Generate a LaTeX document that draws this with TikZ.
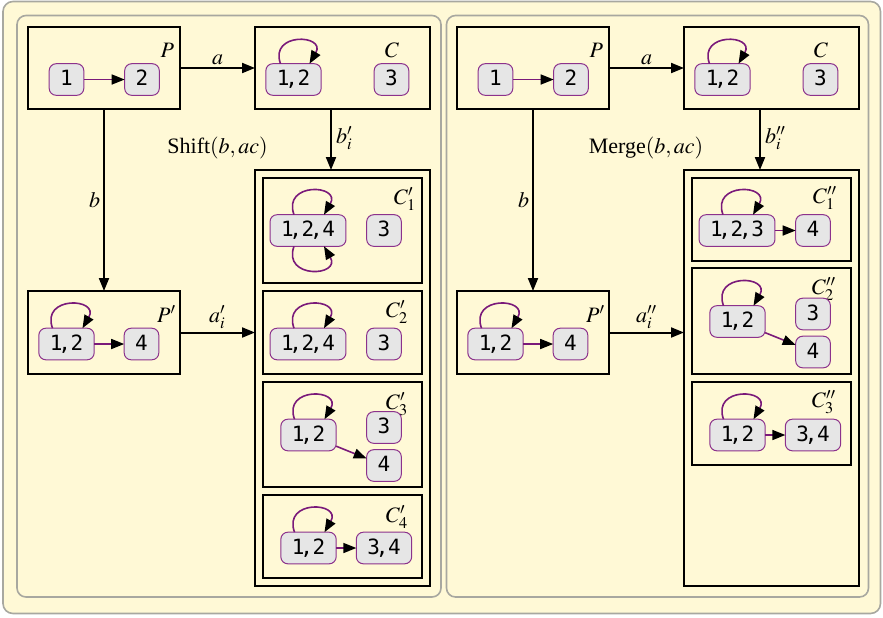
\documentclass[tikz,border=0pt]{standalone}
\usepackage{mathptmx}
\usepackage{fontspec}
\setmainfont{Liberation Serif}
\newfontfamily\statefont{DejaVu Sans Mono}
\usetikzlibrary{arrows.meta}

\definecolor{paper}{RGB}{255,249,214}
\definecolor{rimgray}{RGB}{168,168,160}
\definecolor{statefill}{RGB}{230,230,230}
\definecolor{stateline}{RGB}{140,50,140}
\definecolor{edgeline}{RGB}{122,26,122}

% comma between state numbers: tucked in, with a little room after it
\newcommand\dsep{\kern-0.2em,\kern-0.02em}
% rectangle node from its two corners (pixel-like units)
\newcommand\placebox[6]{\node[#1, minimum width={(#5-#3)*0.5pt}, minimum height={(#6-#4)*0.5pt}] (#2) at ({(#3+#5)/2},{(#4+#6)/2}) {};}

\tikzset{
  sheet/.style={draw=rimgray, fill=paper, line width=0.8pt, rounded corners=5pt, inner sep=0pt, outer sep=0pt},
  panel/.style={draw=rimgray, fill=paper, line width=0.8pt, rounded corners=4.5pt, inner sep=0pt, outer sep=0pt},
  frame/.style={draw=black, line width=0.6pt, inner sep=0pt, outer sep=0pt},
  state/.style={draw=stateline, fill=statefill, line width=0.5pt, rounded corners=3.5pt,
    inner xsep=5.5pt, inner ysep=3.4pt, text height=7.6pt, text depth=1.4pt, outer sep=0pt,
    font=\statefont\fontsize{10.5}{12}\selectfont},
  trans/.style={draw=edgeline, line width=0.8pt, -{Triangle[length=6.5pt,width=5pt,color=black]}},
  flow/.style={draw=black, line width=1pt, -{Triangle[length=6.5pt,width=5pt]}},
  tag/.style={inner sep=0pt, outer sep=0pt, font=\fontsize{11}{13}\selectfont},
  selfloop/.style={trans, out=110, in=60, looseness=3},
  selfloopdown/.style={trans, out=-110, in=-60, looseness=3}
}

\begin{document}
\begin{tikzpicture}[x=0.5pt,y=-0.5pt]
\useasboundingbox (0,0) rectangle (883,617);

% background sheet and the two panels
\placebox{sheet}{sheet}{3}{1.5}{880.5}{613.5}
\placebox{panel}{lpanel}{17}{15.5}{441}{597}
\placebox{panel}{rpanel}{446.5}{15.5}{868.5}{597}

% ---------------- left panel: Shift ----------------
\placebox{frame}{P}{28}{27}{180}{109}
\placebox{frame}{C}{255}{27}{430}{109}
\placebox{frame}{Pp}{28}{291}{180}{374}
\placebox{frame}{S}{255}{170}{430}{586}
\placebox{frame}{S1}{263}{178}{422}{283}
\placebox{frame}{S2}{263}{291}{422}{374}
\placebox{frame}{S3}{263}{382}{422}{487}
\placebox{frame}{S4}{263}{495}{422}{578}

\node[tag, anchor=base east] (Ptag) at (174,57) {$P$};
\node[tag, anchor=base east] (Ctag) at (399,57) {$C$};
\node[tag, anchor=base east] (Pptag) at (176,322) {$P'$};
\node[tag, anchor=base west] (S1tag) at (394,204) {$C'_1$};
\node[tag, anchor=base west] (S2tag) at (386,317) {$C'_2$};
\node[tag, anchor=base west] (S3tag) at (386,409) {$C'_3$};
\node[tag, anchor=base west] (S4tag) at (386,522) {$C'_4$};
\node[tag, anchor=base] (shift) at (217.5,153) {Shift$(b,ac)$};

% states of P
\node[state] (P1) at (66.5,79.5) {1};
\node[state] (P2) at (142,79.5) {2};
\draw[trans] (P1) -- (P2);
% states of C
\node[state] (C12) at (293.5,79.5) {1\dsep2};
\node[state] (C3) at (391.5,79.5) {3};
\draw[selfloop] ([xshift=-6.5pt]C12.north) to ([xshift=8pt]C12.north);
% states of P'
\node[state] (Pp12) at (66.5,344) {1\dsep2};
\node[state] (Pp4) at (141.5,344) {4};
\draw[selfloop] ([xshift=-7pt]Pp12.north) to ([xshift=8pt]Pp12.north);
\draw[trans] (Pp12) -- (Pp4);
% C'_1
\node[state] (A124) at (308,230.5) {1\dsep2\dsep4};
\node[state] (A3) at (384,230.5) {3};
\draw[selfloop] ([xshift=-7pt]A124.north) to ([xshift=8pt]A124.north);
\draw[selfloopdown] ([xshift=-7pt]A124.south) to ([xshift=8pt]A124.south);
% C'_2
\node[state] (B124) at (308,344) {1\dsep2\dsep4};
\node[state] (B3) at (384,344) {3};
\draw[selfloop] ([xshift=-7pt]B124.north) to ([xshift=8pt]B124.north);
% C'_3
\node[state] (D12) at (308.5,435) {1\dsep2};
\node[state] (D3) at (384,427.5) {3};
\node[state] (D4) at (384,465.5) {4};
\draw[selfloop] ([xshift=-7pt]D12.north) to ([xshift=8pt]D12.north);
\draw[trans] (D12) -- (D4);
% C'_4
\node[state] (E12) at (308.5,548) {1\dsep2};
\node[state] (E34) at (384,548) {3\dsep4};
\draw[selfloop] ([xshift=-7pt]E12.north) to ([xshift=8pt]E12.north);
\draw[trans] (E12) -- (E34);

% connectors between the frames
\draw[flow] (P.east) -- node[tag, anchor=base, yshift=2pt] {$a$} (C.west);
\draw[flow] (P.south) -- node[tag, anchor=base east, xshift=-2pt, yshift=-3.5pt] {$b$} (Pp.north);
\draw[flow] ([xshift=-5.75pt]C.south) -- node[tag, anchor=base west, xshift=2.5pt, yshift=-1.75pt] {$b'_i$} ([xshift=-5.75pt]S.north);
\draw[flow] (Pp.east) -- node[tag, anchor=base, yshift=5pt] {$a'_i$} (Pp.east -| S.west);

% ---------------- right panel: Merge ----------------
\placebox{frame}{rP}{457}{27}{609}{109}
\placebox{frame}{rC}{684}{27}{859}{109}
\placebox{frame}{rPp}{457}{291}{609}{374}
\placebox{frame}{M}{684}{170}{859}{586}
\placebox{frame}{M1}{692}{178}{851}{261}
\placebox{frame}{M2}{692}{268}{851}{374}
\placebox{frame}{M3}{692}{382}{851}{465}

\node[tag, anchor=base east] (rPtag) at (603,57) {$P$};
\node[tag, anchor=base east] (rCtag) at (828,57) {$C$};
\node[tag, anchor=base east] (rPptag) at (605,322) {$P'$};
\node[tag, anchor=base west] (M1tag) at (813,203) {$C''_1$};
\node[tag, anchor=base west] (M2tag) at (812,294) {$C''_2$};
\node[tag, anchor=base west] (M3tag) at (812,407) {$C''_3$};
\node[tag, anchor=base] (merge) at (646,153) {Merge$(b,ac)$};

% states of P
\node[state] (rP1) at (495.5,79.5) {1};
\node[state] (rP2) at (571,79.5) {2};
\draw[trans] (rP1) -- (rP2);
% states of C
\node[state] (rC12) at (722.5,79.5) {1\dsep2};
\node[state] (rC3) at (820.5,79.5) {3};
\draw[selfloop] ([xshift=-6.5pt]rC12.north) to ([xshift=8pt]rC12.north);
% states of P'
\node[state] (rPp12) at (495.5,344) {1\dsep2};
\node[state] (rPp4) at (570.5,344) {4};
\draw[selfloop] ([xshift=-7pt]rPp12.north) to ([xshift=8pt]rPp12.north);
\draw[trans] (rPp12) -- (rPp4);
% C''_1
\node[state] (F123) at (737,230.5) {1\dsep2\dsep3};
\node[state] (F4) at (813,230.5) {4};
\draw[selfloop] ([xshift=-7pt]F123.north) to ([xshift=8pt]F123.north);
\draw[trans] (F123) -- (F4);
% C''_2
\node[state] (G12) at (737.5,321.5) {1\dsep2};
\node[state] (G3) at (813,314) {3};
\node[state] (G4) at (813,352) {4};
\draw[selfloop] ([xshift=-7pt]G12.north) to ([xshift=8pt]G12.north);
\draw[trans] (G12) -- (G4);
% C''_3
\node[state] (H12) at (737.5,435) {1\dsep2};
\node[state] (H34) at (813,435) {3\dsep4};
\draw[selfloop] ([xshift=-7pt]H12.north) to ([xshift=8pt]H12.north);
\draw[trans] (H12) -- (H34);

% connectors between the frames
\draw[flow] (rP.east) -- node[tag, anchor=base, yshift=2pt] {$a$} (rC.west);
\draw[flow] (rP.south) -- node[tag, anchor=base east, xshift=-2pt, yshift=-3.5pt] {$b$} (rPp.north);
\draw[flow] ([xshift=-5.75pt]rC.south) -- node[tag, anchor=base west, xshift=2.5pt, yshift=-1.75pt] {$b''_i$} ([xshift=-5.75pt]M.north);
\draw[flow] (rPp.east) -- node[tag, anchor=base, yshift=5pt] {$a''_i$} (rPp.east -| M.west);
\end{tikzpicture}
\end{document}
